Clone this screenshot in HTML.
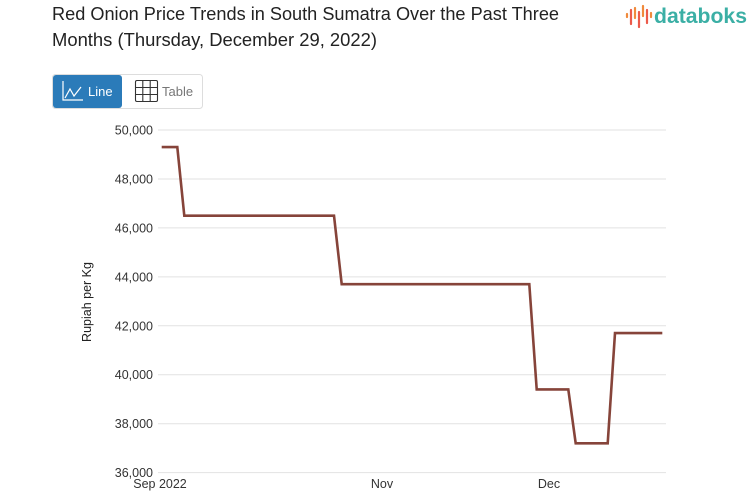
<!DOCTYPE html>
<html><head><meta charset="utf-8"><style>
html,body{margin:0;padding:0;background:#fff;}
body{width:753px;height:498px;overflow:hidden;position:relative;font-family:"Liberation Sans",sans-serif;}
svg{position:absolute;left:0;top:0;}
</style></head><body>
<svg width="753" height="498" viewBox="0 0 753 498" xmlns="http://www.w3.org/2000/svg" font-family="Liberation Sans, sans-serif">
  <!-- Title -->
  <text x="52" y="20" font-size="18" fill="#222" textLength="507" lengthAdjust="spacingAndGlyphs">Red Onion Price Trends in South Sumatra Over the Past Three</text>
  <text x="52" y="46" font-size="18" fill="#222" textLength="325" lengthAdjust="spacingAndGlyphs">Months (Thursday, December 29, 2022)</text>

  <!-- Logo -->
  <g stroke-linecap="round" stroke-width="2.2">
    <line x1="627" y1="14" x2="627" y2="17" stroke="#f08a3c"/>
    <line x1="631" y1="10" x2="631" y2="24" stroke="#ec5a4a"/>
    <line x1="635" y1="8" x2="635" y2="18" stroke="#f08a3c"/>
    <line x1="639" y1="12" x2="639" y2="27" stroke="#ec5a4a"/>
    <line x1="643" y1="6" x2="643" y2="16" stroke="#f08a3c"/>
    <line x1="647" y1="10" x2="647" y2="23" stroke="#ec5a4a"/>
    <line x1="651" y1="13" x2="651" y2="17" stroke="#f08a3c"/>
  </g>
  <text x="654" y="23" font-size="21" font-weight="bold" fill="#3bafa5" textLength="93" lengthAdjust="spacingAndGlyphs">databoks</text>

  <!-- Buttons -->
  <rect x="52.5" y="74.5" width="150" height="34" rx="3" fill="#fff" stroke="#ddd"/>
  <rect x="53" y="75" width="69" height="33" rx="3" fill="#2b7bb9"/>
  <g fill="none" stroke="#fff" stroke-width="1.2">
    <polyline points="63,81 63,100 83,100"/>
    <polyline points="65,98 70,89 74,96 81,87"/>
  </g>
  <text x="88" y="96" font-size="13" fill="#fff">Line</text>
  <g fill="none" stroke="#333" stroke-width="1.1">
    <rect x="135.5" y="80.5" width="22" height="21" rx="1.5"/>
    <line x1="142.8" y1="80.5" x2="142.8" y2="101.5"/>
    <line x1="150.2" y1="80.5" x2="150.2" y2="101.5"/>
    <line x1="135.5" y1="87.5" x2="157.5" y2="87.5"/>
    <line x1="135.5" y1="94.5" x2="157.5" y2="94.5"/>
  </g>
  <text x="162" y="96" font-size="13" fill="#777">Table</text>

  <!-- Grid -->
  <g stroke="#e2e2e2" stroke-width="1">
    <line x1="158" y1="130" x2="666" y2="130"/>
    <line x1="158" y1="178.95" x2="666" y2="178.95"/>
    <line x1="158" y1="227.9" x2="666" y2="227.9"/>
    <line x1="158" y1="276.85" x2="666" y2="276.85"/>
    <line x1="158" y1="325.8" x2="666" y2="325.8"/>
    <line x1="158" y1="374.75" x2="666" y2="374.75"/>
    <line x1="158" y1="423.7" x2="666" y2="423.7"/>
    <line x1="158" y1="472.65" x2="666" y2="472.65"/>
  </g>

  <!-- Y labels -->
  <g font-size="12.5" fill="#333" text-anchor="end">
    <text x="153" y="134.5">50,000</text>
    <text x="153" y="183.5">48,000</text>
    <text x="153" y="232.5">46,000</text>
    <text x="153" y="281.3">44,000</text>
    <text x="153" y="330.3">42,000</text>
    <text x="153" y="379.2">40,000</text>
    <text x="153" y="428.2">38,000</text>
    <text x="153" y="477">36,000</text>
  </g>
  <text transform="translate(91,302) rotate(-90)" font-size="12.5" fill="#222" text-anchor="middle">Rupiah per Kg</text>

  <!-- X labels -->
  <g font-size="12.5" fill="#333" text-anchor="middle">
    <text x="160" y="488">Sep 2022</text>
    <text x="382" y="488">Nov</text>
    <text x="549" y="488">Dec</text>
  </g>

  <!-- Series -->
  <polyline fill="none" stroke="#86443a" stroke-width="2.6" stroke-linejoin="miter"
    points="161.7,147.1 177.3,147.1 184.3,215.7 334,215.7 341.7,284.2 529.3,284.2 536.7,389.4 568.3,389.4 575.7,443.3 607.7,443.3 615,333.1 662.3,333.1"/>
</svg>
</body></html>
